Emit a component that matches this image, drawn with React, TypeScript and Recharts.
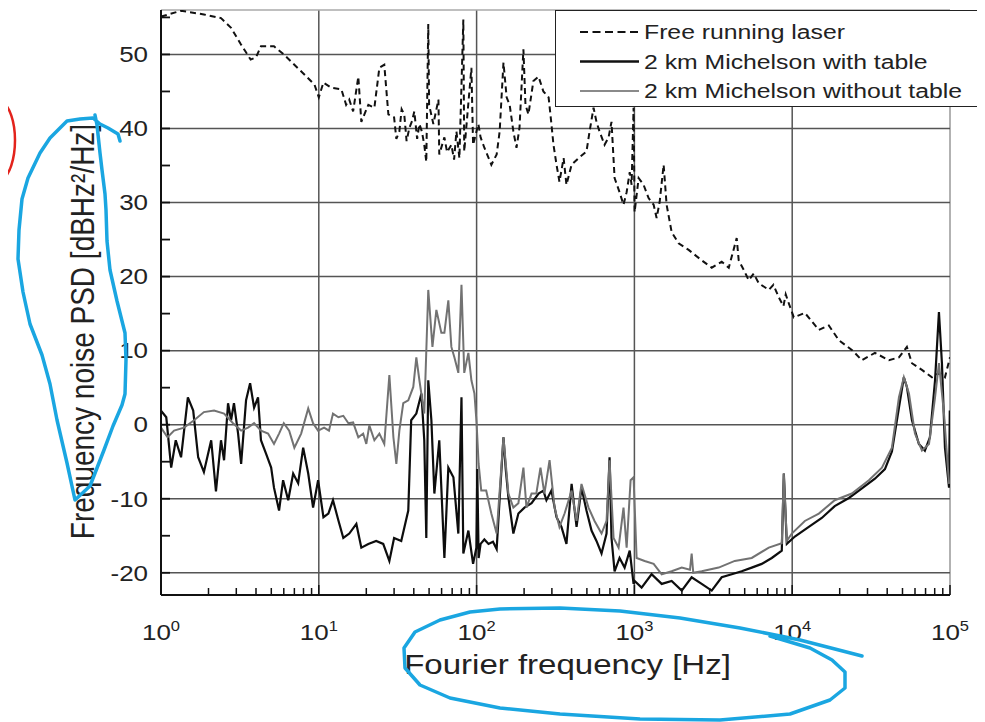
import { LineChart, Line, XAxis, YAxis, ReferenceLine, Legend } from "recharts";

const FONT = '"Liberation Sans", Arial, Helvetica, sans-serif';
// the reference picture is stretched horizontally a little, so text is too
const STRETCH = 1.18;

const seriesNames = [
  "Free running laser",
  "2 km Michelson with table",
  "2 km Michelson without table",
];

const xMajorTicks = [1, 10, 100, 1000, 10000, 100000];
const xMinorTicks = [
  2, 3, 4, 5, 6, 7, 8, 9, 20, 30, 40, 50, 60, 70, 80, 90, 200, 300, 400, 500,
  600, 700, 800, 900, 2000, 3000, 4000, 5000, 6000, 7000, 8000, 9000, 20000,
  30000, 40000, 50000, 60000, 70000, 80000, 90000,
];
const yTicks = [-20, -15, -10, -5, 0, 5, 10, 15, 20, 25, 30, 35, 40, 45, 50, 55];
const yGrid = [-20, -10, 0, 10, 20, 30, 40, 50];

// [frequency Hz, PSD dB]
const freeRunning: [number, number][] = [
  [1, 55.1], [1.34, 55.9], [1.87, 55.4], [2.4, 54.9], [2.78, 53.6], [3.2, 51.4],
  [3.7, 49.3], [4.0, 49.6], [4.3, 51.1], [5.2, 51.1], [6.0, 50.0], [7.0, 48.6],
  [8.1, 47.3], [9.4, 45.9], [10, 44.2], [10.7, 46.2], [12, 45.5], [13.9, 45.3],
  [14.9, 43.2], [15.6, 43.9], [16.5, 42.3], [17.8, 47.0], [18.6, 40.9], [20.6, 43.2],
  [22.5, 42.8], [24.2, 48.2], [26, 48.6], [27.6, 41.9], [30, 41.5], [31, 38.6],
  [32.4, 39.6], [33.5, 42.6], [34.8, 41.9], [36, 38.3], [37.5, 40.1], [39, 41.0],
  [40.3, 42.3], [42, 38.6], [43.4, 40.6], [45, 39.6], [46.6, 37.8], [48, 35.5],
  [49.4, 54.1], [50, 43.2], [53.2, 40.6], [57.3, 43.9], [58, 36.5], [62.5, 38.8],
  [65, 36.8], [69.2, 37.8], [72, 35.8], [74.5, 39.6], [77.8, 36.0], [82.4, 54.7],
  [83.5, 36.9], [92.7, 48.2], [95, 37.8], [102.6, 40.6], [106, 38.8], [112, 37.4],
  [124, 35.1], [134, 36.5], [140, 39.6], [148, 48.9], [155, 44.2], [162, 43.2],
  [171, 39.6], [179, 37.4], [187, 40.1], [198, 50.7], [204, 43.2], [213, 41.9],
  [229, 46.4], [247, 47.0], [265, 45.0], [286, 44.2], [298, 40.6], [307, 37.8],
  [321, 35.1], [335, 32.8], [356, 36.0], [371, 32.4], [400, 35.1], [443, 36.0],
  [497, 36.9], [520, 39.6], [551, 42.8], [575, 40.9], [601, 39.6], [647, 37.8],
  [686, 38.8], [716, 40.9], [749, 33.3], [805, 31.4], [853, 29.7], [893, 31.4],
  [934, 34.1], [960, 32.4], [988, 42.8], [1003, 28.7], [1064, 33.3], [1143, 32.4],
  [1230, 30.6], [1324, 29.7], [1383, 27.9], [1446, 30.1], [1532, 35.1], [1600, 29.7],
  [1722, 26.0], [1906, 24.5], [2207, 23.6], [2669, 22.2], [3090, 21.2], [3575, 22.0],
  [3963, 21.2], [4449, 25.2], [4581, 22.2], [4933, 20.9], [5308, 19.5], [5700, 20.4],
  [6139, 19.1], [7107, 18.2], [7600, 18.9], [8227, 17.2], [8800, 16.0], [9100, 17.6],
  [9511, 16.4], [10234, 14.5], [12023, 15.1], [14750, 12.8], [17061, 13.4], [19770, 11.4],
  [23878, 10.1], [27657, 8.7], [33437, 9.7], [41036, 8.7], [47480, 9.1], [53296, 10.5],
  [57400, 8.3], [66400, 7.4], [76900, 6.4], [85100, 7.0], [92900, 6.4], [100000, 9.1],
];

const withTable: [number, number][] = [
  [1, 1.9], [1.08, 1.0], [1.16, -5.8], [1.24, -2.1], [1.34, -4.4], [1.48, 3.7],
  [1.6, 1.9], [1.72, -4.4], [1.87, -6.4], [2.08, -2.1], [2.23, -9.0], [2.4, -2.1],
  [2.51, -4.8], [2.66, 2.9], [2.78, 0.6], [2.9, 2.9], [3.08, -1.2], [3.22, -5.3],
  [3.46, 3.3], [3.67, 5.6], [3.89, 2.3], [4.12, 3.7], [4.3, -2.1], [4.63, -3.9],
  [4.99, -5.8], [5.2, -8.5], [5.6, -11.6], [5.94, -7.5], [6.4, -10.2], [6.88, -6.6],
  [7.4, -7.9], [7.96, -3.1], [8.57, -6.6], [9.2, -11.2], [9.9, -7.5], [10.7, -12.5],
  [11.5, -12.0], [12.3, -10.2], [13.3, -12.9], [14.3, -15.3], [15.6, -14.7], [17.3, -13.4],
  [18.6, -16.6], [20.6, -16.1], [23.1, -15.7], [25.6, -16.1], [28, -18.4], [30, -15.3],
  [33.3, -15.7], [36.9, -11.6], [38.5, 0.6], [41.5, 1.5], [44.7, 4.2], [46.6, -2.1],
  [48, -15.3], [49.4, 6.0], [51.7, 0.6], [54, -9.3], [58, -2.1], [62.5, -18.0],
  [66.2, -5.8], [71.3, -7.1], [76.6, -14.7], [80.2, 3.7], [82.4, -17.4], [88.7, -14.3],
  [95, -18.8], [99.7, -16.6], [101, -6.0], [103, -18.0], [106, -16.1], [112, -15.5],
  [119, -16.1], [127, -15.8], [134, -16.8], [140, -10.0], [148, -1.7], [153, -6.0],
  [159, -9.8], [171, -14.7], [184, -12.0], [201, -11.2], [223, -10.6], [247, -9.3],
  [265, -8.9], [277, -10.2], [298, -8.9], [321, -12.5], [345, -13.8], [371, -16.1],
  [400, -8.0], [430, -13.8], [462, -8.5], [497, -11.6], [535, -14.3], [575, -15.7],
  [619, -17.4], [666, -14.7], [696, -4.4], [716, -15.3], [749, -19.8], [805, -18.0],
  [867, -19.3], [934, -17.0], [988, -21.5], [1003, -21.1], [1111, -22.0], [1285, -20.2],
  [1489, -21.5], [1722, -21.1], [1995, -22.4], [2306, -20.6], [2669, -21.5], [3090, -22.4],
  [3575, -20.6], [4140, -20.2], [4786, -19.8], [5541, -19.3], [6411, -18.8], [7423, -18.0],
  [8590, -17.0], [8850, -6.6], [9244, -16.1], [10395, -15.1], [12740, -13.8], [15400, -12.6],
  [18600, -11.0], [22870, -9.9], [27657, -8.6], [33437, -7.3], [38700, -6.0], [42850, -3.6],
  [47480, 2.3], [51000, 6.4], [53300, 5.1], [57400, 0.6], [63500, -2.6], [69300, -3.5],
  [74600, -1.7], [80400, 6.0], [85100, 15.2], [88900, 8.3], [92900, -3.1], [98600, -8.5],
  [99700, 1.9], [100000, -7.5],
];

const withoutTable: [number, number][] = [
  [1, -0.4], [1.1, -1.7], [1.21, -0.8], [1.4, -0.4], [1.62, 0.6], [1.87, 1.7],
  [2.17, 1.9], [2.51, 1.5], [2.86, 0.2], [3.22, -0.8], [3.56, -0.4], [3.89, 0.2],
  [4.3, -0.8], [4.77, -1.2], [5.2, -2.6], [5.6, -1.2], [6.0, 0.2], [6.49, -0.8],
  [7.0, -3.1], [7.73, -1.2], [8.57, 2.2], [9.2, 0.2], [9.9, -0.8], [10.8, -0.4],
  [11.6, -0.8], [12.3, 1.5], [13.3, 1.0], [14.3, 1.2], [15.4, 0.2], [16.5, 0.3],
  [17.8, -1.7], [19.1, -1.2], [20, -2.6], [20.9, -0.1], [22.5, -2.1], [24.2, -1.2],
  [26, -2.6], [28, 6.7], [29.7, -1.7], [31, -5.3], [32.4, -0.8], [34.3, 2.9],
  [36.9, 3.3], [39.7, 5.1], [41.5, 9.1], [43.4, 6.0], [46.6, 1.5], [49.4, 18.2],
  [52.5, 10.5], [55.6, 15.5], [59.8, 12.4], [62.5, 12.4], [66.2, 16.8], [69.2, 10.5],
  [72.3, 9.1], [76.6, 7.0], [80.2, 18.9], [83.5, 7.0], [88.7, 9.7], [92.7, 6.0],
  [96.9, 4.2], [100, 0.2], [103, -5.3], [107, -8.9], [115, -8.9], [124, -12.0],
  [134, -14.7], [148, -1.7], [159, -9.3], [171, -11.2], [184, -10.6], [198, -5.8],
  [207, -11.2], [223, -9.3], [239, -9.3], [254, -5.8], [269, -9.3], [290, -4.8],
  [312, -11.2], [335, -13.8], [361, -12.0], [400, -8.9], [430, -13.0], [462, -8.0],
  [512, -11.2], [559, -13.0], [619, -14.7], [666, -13.0], [696, -4.8], [738, -15.3],
  [794, -16.6], [853, -11.2], [893, -16.6], [946, -7.5], [988, -7.1], [1033, -18.0],
  [1161, -18.4], [1324, -18.8], [1489, -20.2], [1722, -19.8], [1995, -19.3], [2250, -19.6],
  [2306, -17.4], [2360, -20.0], [2669, -19.8], [3420, -19.3], [4325, -18.4], [5541, -18.0],
  [7107, -16.6], [8590, -16.0], [8850, -6.6], [9244, -15.7], [9940, -14.7], [12023, -13.0],
  [14750, -12.0], [18600, -10.2], [23878, -9.3], [30620, -7.5], [37040, -5.8], [42850, -3.1],
  [47480, 3.7], [51000, 6.4], [54950, 4.2], [59970, -1.2], [66400, -3.5], [73600, -2.6],
  [80400, 3.7], [85100, 8.3], [91600, 1.5], [98600, -8.0],
];

const toRows = (pairs: [number, number][]) => pairs.map(([f, v]) => ({ f, v }));

const xTicks = [...xMajorTicks, ...xMinorTicks].sort((a, b) => a - b);

function XTick(props: any) {
  const { x, y, payload } = props;
  const major = xMajorTicks.includes(payload.value);
  const exp = Math.round(Math.log10(payload.value));
  return (
    <g>
      <line x1={x} y1={y} x2={x} y2={y - (major ? 10 : 7)} stroke="#111" strokeWidth={1.5} />
      {major && (
        <g transform={`translate(${x},${y + 45})`}>
          <text transform={`scale(${STRETCH},1)`} textAnchor="middle" fontSize={22} fill="#222" fontFamily={FONT}>
            10
            <tspan dy={-9} fontSize={14}>{exp}</tspan>
          </text>
        </g>
      )}
    </g>
  );
}

function YTick(props: any) {
  const { x, y, payload } = props;
  const labelled = yGrid.includes(payload.value);
  return (
    <g>
      <line x1={x} y1={y} x2={x + 9} y2={y} stroke="#111" strokeWidth={1.8} />
      {labelled && (
        <g transform={`translate(${x - 13},${y})`}>
          <text transform={`scale(${STRETCH},1)`} textAnchor="end" dominantBaseline="central" fontSize={22} fill="#222" fontFamily={FONT}>
            {payload.value}
          </text>
        </g>
      )}
    </g>
  );
}

function XTitle(props: any) {
  const vb = props.viewBox || { x: 153, y: 587, width: 789, height: 127 };
  return (
    <g transform={`translate(${vb.x + vb.width / 2 + 12},${vb.y + 69})`}>
      <text transform={`scale(${STRETCH},1)`} textAnchor="middle" dominantBaseline="central" fontSize={28} fill="#222" fontFamily={FONT}>
        Fourier frequency [Hz]
      </text>
    </g>
  );
}

function YTitle(props: any) {
  const vb = props.viewBox || { x: 0, y: 2, width: 153, height: 585 };
  return (
    <g transform={`translate(${vb.x + 74},${vb.y + vb.height / 2 + 29}) scale(${STRETCH},1) rotate(-90)`}>
      <text textAnchor="middle" dominantBaseline="central" fontSize={28} fill="#222" fontFamily={FONT}>
        Frequency noise PSD [dBHz²/Hz]
      </text>
    </g>
  );
}

function LegendBox() {
  const rows = [
    { name: seriesNames[0], stroke: "#111", width: 1.8, dash: "8 4.5" },
    { name: seriesNames[1], stroke: "#111", width: 2.6, dash: undefined },
    { name: seriesNames[2], stroke: "#8a8a8a", width: 2, dash: undefined },
  ];
  return (
    <div style={{ boxSizing: "border-box", width: 423, height: 97, border: "1.5px solid #222", background: "#fff" }}>
      <svg width={420} height={94}>
        {rows.map((r, i) => {
          const cy = 21 + i * 29.5;
          return (
            <g key={r.name}>
              <line x1={24} x2={83} y1={cy} y2={cy} stroke={r.stroke} strokeWidth={r.width} strokeDasharray={r.dash} />
              <g transform={`translate(88,${cy})`}>
                <text transform={`scale(${STRETCH},1)`} dominantBaseline="central" fontSize={21} fill="#222" fontFamily={FONT}>
                  {r.name}
                </text>
              </g>
            </g>
          );
        })}
      </svg>
    </div>
  );
}

export default function App() {
  return (
    <div style={{ position: "relative", width: 977, height: 714, fontFamily: FONT }}>
      <LineChart width={977} height={714} margin={{ top: 2, right: 35, left: 0, bottom: 0 }}>
        <XAxis
          type="number"
          dataKey="f"
          scale="log"
          domain={[1, 100000]}
          allowDataOverflow
          ticks={xTicks}
          interval={0}
          height={127}
          tickSize={0}
          tickMargin={0}
          tickLine={false}
          tick={XTick}
          axisLine={{ stroke: "#111", strokeWidth: 2 }}
          label={XTitle}
        />
        <YAxis
          type="number"
          domain={[-23, 56]}
          allowDataOverflow
          ticks={yTicks}
          interval={0}
          width={153}
          tickSize={0}
          tickMargin={0}
          tickLine={false}
          tick={YTick}
          axisLine={{ stroke: "#111", strokeWidth: 2 }}
          label={YTitle}
        />
        {xMajorTicks.slice(1).map((v) => (
          <ReferenceLine key={"x" + v} x={v} stroke={v === 100000 ? "#999" : "#555"} strokeWidth={1.5} />
        ))}
        {yGrid.map((v) => (
          <ReferenceLine key={"y" + v} y={v} stroke="#555" strokeWidth={1.5} />
        ))}
        <ReferenceLine y={56} stroke="#aaa" strokeWidth={1.5} />
        <Line
          data={toRows(freeRunning)}
          dataKey="v"
          name={seriesNames[0]}
          type="linear"
          stroke="#111"
          strokeWidth={2}
          strokeDasharray="6 4"
          dot={false}
          isAnimationActive={false}
        />
        <Line
          data={toRows(withTable)}
          dataKey="v"
          name={seriesNames[1]}
          type="linear"
          stroke="#0d0d0d"
          strokeWidth={2.2}
          dot={false}
          isAnimationActive={false}
        />
        <Line
          data={toRows(withoutTable)}
          dataKey="v"
          name={seriesNames[2]}
          type="linear"
          stroke="#727272"
          strokeWidth={2}
          dot={false}
          isAnimationActive={false}
        />
        <Legend
          layout="vertical"
          align="center"
          verticalAlign="middle"
          wrapperStyle={{ left: 547, top: 2, width: 423, height: 97 }}
          content={() => <LegendBox />}
        />
      </LineChart>
      {/* hand-drawn highlight marks that sit on top of the reference picture */}
      <svg
        width={985}
        height={722}
        style={{ position: "absolute", left: -8, top: -8, pointerEvents: "none", overflow: "visible" }}
      >
        <path d="M0,100 C20,110 20,170 0,182" fill="none" stroke="#e3231c" strokeWidth={2.5} />
        <polyline
          points="120,141 118,134 108,128 100,124 93,118 80,119 67,121 50,138 40,153 28,178 22,199 19,230 18,259 23,292 30,324 42,355 50,384 57,420 67,463 75,500 90,486 104,450 113,426 122,405 125,394 126,360 125,333 117,301 110,270 107,241 106,210 105,194 102,170 100,153 97,125 95,115"
          fill="none"
          stroke="#1aa6e1"
          strokeWidth={3.5}
          strokeLinejoin="round"
          strokeLinecap="round"
        />
        <polyline
          points="862,656 800,640 740,628 680,618 620,611 560,608 500,609 470,612 440,620 415,632 404,648 405,668 420,685 450,698 500,708 560,714 640,719 720,720 790,714 830,700 845,688 845,672 832,660 810,648 770,636"
          fill="none"
          stroke="#1aa6e1"
          strokeWidth={3.5}
          strokeLinejoin="round"
          strokeLinecap="round"
        />
      </svg>
    </div>
  );
}
